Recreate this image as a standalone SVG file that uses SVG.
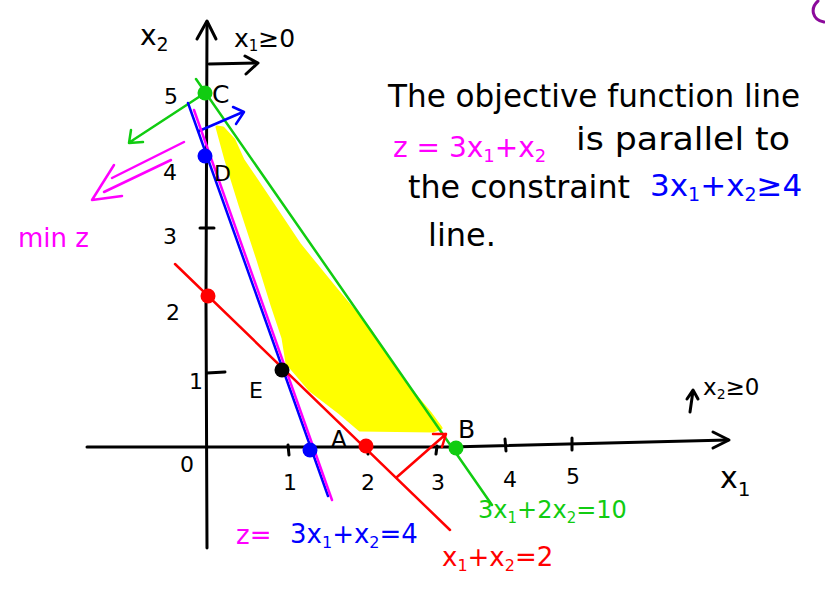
<svg xmlns="http://www.w3.org/2000/svg" width="825" height="592" viewBox="0 0 825 592">
<style>
.ln{fill:none;stroke-linecap:round;stroke-linejoin:round}
.k{stroke:#000;stroke-width:3}
.g{stroke:#11cc11;stroke-width:2.5}
.b{stroke:#0000ff;stroke-width:2.5}
.m{stroke:#ff00ff;stroke-width:2.5}
.r{stroke:#ff0000;stroke-width:2.5}
text{font-family:"DejaVu Sans","Liberation Sans",sans-serif}
.tk{fill:#000}
.tg{fill:#11cc11}
.tb{fill:#0000ff}
.tm{fill:#ff00ff}
.tr{fill:#ff0000}
</style>
<rect width="825" height="592" fill="#fff"/>
<g id="feasible-region">
<path d="M217,127 L226,160 L240,205 L258,260 L272,305 L283,338 L287,363 L310,390 L340,413 L360,430 L433,431 L441,428 L430,413 L400,377 L370,330 L335,288 L300,245 L270,200 L243,160 L234,140 L223,128 Z" fill="#ffff00" stroke="#ffff00" stroke-width="3" stroke-linejoin="round"/>
</g>
<g id="axes">
<path class="ln k" d="M207,22 L206,300 L207,548"/>
<path class="ln k" d="M197,39 L207,21 L216,39"/>
<path class="ln k" d="M87,447 L450,447 L728,440"/>
<path class="ln k" d="M713,432 L729,440 L713,448"/>
<path class="ln k" d="M200,228 L214,228 M207,373 L225,372"/>
<path class="ln k" d="M288,445 L289,455 M367,446 L368,454 M437,446 L436,454 M505,439 L506,451 M572,438 L572,450"/>
<path class="ln k" d="M209,64 L257,63 M245,56 L258,63 L246,74"/>
<path class="ln k" d="M690,412 L693,391 M687,399 L693,390 L698,399"/>
</g>
<g id="connectors">
<path class="ln g" d="M196,79 L492,505"/>
<path class="ln g" d="M205,93 L130,142 M131,130 L129,143 L143,142"/>
<path class="ln b" d="M188,103 L328,496"/>
<path class="ln b" d="M199,131 L243,112 M233,107 L244,112 L236,124"/>
<path class="ln m" d="M194,110 L332,500"/>
<path class="ln m" d="M184,142 L112,178 M171,160 L104,192 M114,165 L92,200 L122,196"/>
<path class="ln r" d="M175,264 L450,530"/>
<path class="ln r" d="M397,477 L446,434 M433,434 L446,434 L442,447"/>
<path class="ln" stroke="#8b0a9b" stroke-width="3" d="M818,1 C810,8 812,20 824,22"/>
</g>
<g id="point-C"><circle cx="205" cy="93" r="7.5" fill="#11cc11"/><text x="212" y="103" font-size="25" class="tk">C</text></g>
<g id="point-D"><circle cx="205" cy="156" r="7.5" fill="#0000ff"/><text x="214" y="181" font-size="22" class="tk">D</text></g>
<g id="point-E"><circle cx="282" cy="370" r="7.5" fill="#000"/><text x="249" y="398" font-size="22" class="tk">E</text></g>
<g id="point-A"><circle cx="366" cy="446" r="7.5" fill="#ff0000"/><text x="331" y="447" font-size="23" class="tk">A</text></g>
<g id="point-B"><circle cx="456" cy="448" r="7.5" fill="#11cc11"/><text x="458" y="438" font-size="25" class="tk">B</text></g>
<g id="point-x2-intercept"><circle cx="208" cy="296" r="7.5" fill="#ff0000"/></g>
<g id="point-x1-intercept"><circle cx="310" cy="450" r="7.5" fill="#0000ff"/></g>
<g id="axis-labels" font-size="22">
<text x="140" y="45" font-size="28" class="tk">x<tspan font-size="19" dy="6">2</tspan></text>
<text x="234" y="47" font-size="25" class="tk">x<tspan font-size="15" dy="4">1</tspan><tspan dy="-4">≥0</tspan></text>
<text x="720" y="488" font-size="30" class="tk">x<tspan font-size="20" dy="8">1</tspan></text>
<text x="703" y="395" font-size="23" class="tk">x<tspan font-size="14" dy="4">2</tspan><tspan dy="-4">≥0</tspan></text>
<text x="164" y="104" class="tk">5</text>
<text x="163" y="180" class="tk">4</text>
<text x="163" y="244" class="tk">3</text>
<text x="166" y="320" class="tk">2</text>
<text x="189" y="389" class="tk">1</text>
<text x="180" y="472" class="tk">0</text>
<text x="283" y="490" class="tk">1</text>
<text x="361" y="490" class="tk">2</text>
<text x="431" y="490" class="tk">3</text>
<text x="503" y="487" class="tk">4</text>
<text x="566" y="484" class="tk">5</text>
<text x="18" y="247" font-size="26" class="tm">min z</text>
</g>
<g id="note" font-size="32">
<text x="388" y="107" class="tk" textLength="412" lengthAdjust="spacingAndGlyphs">The objective function line</text>
<text x="393" y="157" font-size="28" class="tm">z = 3x<tspan font-size="18" dy="5">1</tspan><tspan dy="-5">+x</tspan><tspan font-size="18" dy="5">2</tspan></text>
<text x="576" y="150" class="tk" textLength="214" lengthAdjust="spacingAndGlyphs">is parallel to</text>
<text x="408" y="198" class="tk" textLength="222" lengthAdjust="spacingAndGlyphs">the constraint</text>
<text x="650" y="196" font-size="31" class="tb">3x<tspan font-size="19" dy="5">1</tspan><tspan dy="-5">+x</tspan><tspan font-size="19" dy="5">2</tspan><tspan dy="-5">≥4</tspan></text>
<text x="428" y="246" class="tk">line.</text>
</g>
<g id="line-labels" font-size="26">
<text x="236" y="544" class="tm">z=</text>
<text x="290" y="543" class="tb">3x<tspan font-size="16" dy="5">1</tspan><tspan dy="-5">+x</tspan><tspan font-size="16" dy="5">2</tspan><tspan dy="-5">=4</tspan></text>
<text x="442" y="566" class="tr">x<tspan font-size="16" dy="5">1</tspan><tspan dy="-5">+x</tspan><tspan font-size="16" dy="5">2</tspan><tspan dy="-5">=2</tspan></text>
<text x="478" y="518" font-size="24" class="tg">3x<tspan font-size="15" dy="5">1</tspan><tspan dy="-5">+2x</tspan><tspan font-size="15" dy="5">2</tspan><tspan dy="-5">=10</tspan></text>
</g>
</svg>
